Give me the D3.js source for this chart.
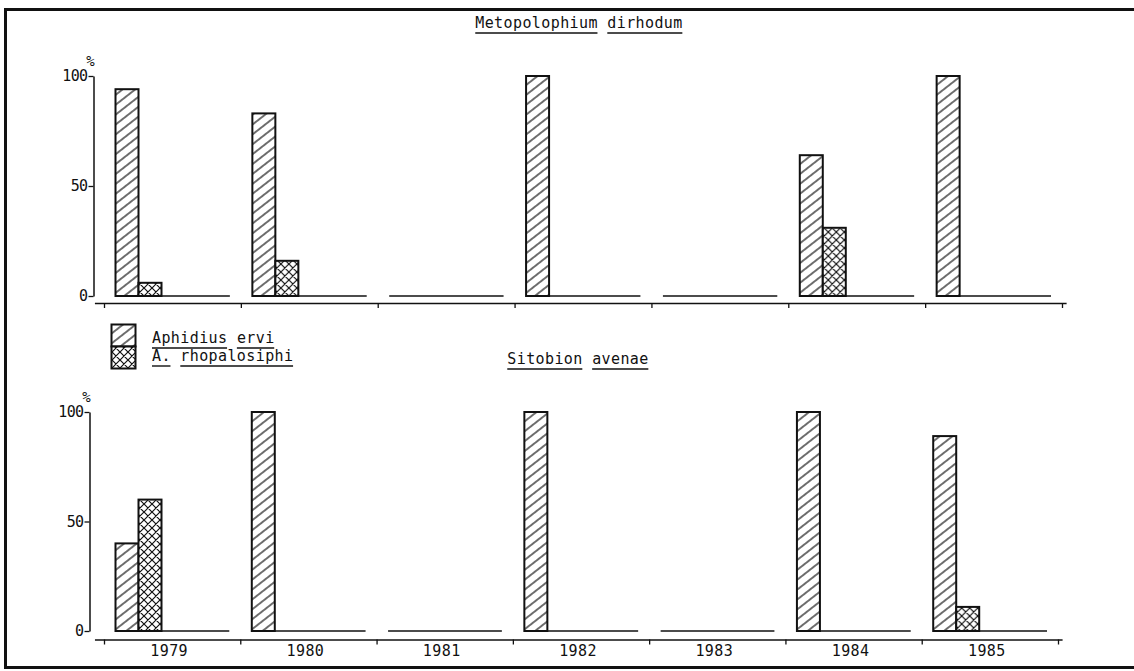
<!DOCTYPE html>
<html>
<head>
<meta charset="utf-8">
<script src="https://cdn.jsdelivr.net/npm/d3@7"></script>
<style>
  html, body { margin: 0; padding: 0; background: #fff; }
  svg { display: block; }
  text { font-family: "DejaVu Sans Mono", "Liberation Mono", monospace; fill: #111; }
</style>
</head>
<body>
<svg id="chart" width="1134" height="671"></svg>
<script>
// ---- data ----
const years = ["1979", "1980", "1981", "1982", "1983", "1984", "1985"];
const seriesNames = ["Aphidius ervi", "A. rhopalosiphi"];
const yTicks = [0, 50, 100];
const topTitle = "Metopolophium dirhodum";
const bottomTitle = "Sitobion avenae";
// Metopolophium dirhodum (%)
const topErvi = [94, 83, 0, 100, 0, 64, 100];
const topRhopalo = [6, 16, 0, 0, 0, 31, 0];
// Sitobion avenae (%)
const botErvi = [40, 100, 0, 100, 0, 100, 89];
const botRhopalo = [60, 0, 0, 0, 0, 0, 11];

const svg = d3.select("#chart");
const ink = "#111";
const FS = 15, LS = 0.4;

// ---- patterns ----
const defs = svg.append("defs");
const hatch = defs.append("pattern")
  .attr("id", "hatch").attr("patternUnits", "userSpaceOnUse")
  .attr("width", 7.8).attr("height", 7.8)
  .attr("patternTransform", "rotate(-38)");
hatch.append("rect").attr("width", 7.8).attr("height", 7.8).attr("fill", "#fff");
hatch.append("line").attr("x1", -1).attr("x2", 9).attr("y1", 3.9).attr("y2", 3.9)
  .attr("stroke", ink).attr("stroke-width", 1.2);

const cross = defs.append("pattern")
  .attr("id", "cross").attr("patternUnits", "userSpaceOnUse")
  .attr("width", 8).attr("height", 8);
cross.append("rect").attr("width", 8).attr("height", 8).attr("fill", "#fff");
cross.append("path").attr("d", "M0,0L8,8M8,0L0,8M-1,7L1,9M7,-1L9,1M-1,1L1,-1M7,9L9,7")
  .attr("stroke", ink).attr("stroke-width", 1.2).attr("fill", "none");

const fills = ["url(#hatch)", "url(#cross)"];

// ---- frame ----
svg.append("path").attr("d", "M1134,9.5H5.5V667.5H1134")
  .attr("fill", "none").attr("stroke", ink).attr("stroke-width", 3);

// ---- helper: underlined words ----
function underlinedText(g, str, x, y, anchor, size, spacing) {
  const probe = g.append("text").attr("font-size", size).attr("letter-spacing", spacing).text(str);
  const total = probe.node().getComputedTextLength();
  probe.remove();
  const cw = total / str.length;
  let x0 = anchor === "middle" ? x - total / 2 : x;
  let idx = 0;
  str.split(" ").forEach(w => {
    const wx = x0 + idx * cw;
    const t = g.append("text").attr("x", wx).attr("y", y)
      .attr("font-size", size).attr("letter-spacing", spacing).text(w);
    const len = t.node().getComputedTextLength();
    g.append("line").attr("x1", wx).attr("x2", wx + len - spacing)
      .attr("y1", y + 5).attr("y2", y + 5)
      .attr("stroke", ink).attr("stroke-width", 1.4);
    idx += w.length + 1;
  });
}

// ---- panel drawing ----
function panel(cfg) {
  const g = svg.append("g");
  const y = d3.scaleLinear().domain([0, 100]).range([cfg.y0, cfg.y100]);
  const x = d3.scaleBand().domain(years).range([cfg.xL, cfg.xR]).padding(0);
  const xi = d3.scaleLinear().domain([0, years.length]).range([cfg.xL, cfg.xR]);
  const sub = d3.scaleBand().domain(seriesNames).range([11.5, 11.5 + 46]).padding(0);

  // y axis
  const ya = g.append("g").attr("transform", `translate(${cfg.yAxisX},0)`)
    .call(d3.axisLeft(y).tickValues(yTicks).tickSize(5).tickSizeOuter(0).tickPadding(1));
  ya.select(".domain").attr("stroke", ink).attr("stroke-width", 1.5);
  ya.selectAll(".tick line").attr("stroke", ink).attr("stroke-width", 1.3);
  ya.selectAll(".tick text").attr("font-size", FS).attr("letter-spacing", -0.6)
    .attr("font-family", "'DejaVu Sans Mono', monospace").attr("fill", ink);
  g.append("text").attr("x", cfg.yAxisX - 3).attr("y", cfg.y100 - 10)
    .attr("text-anchor", "middle").attr("font-size", 14).text("%");

  // x axis with ticks at group boundaries
  const ext = d3.scaleLinear().domain([-0.07, years.length + 0.03])
    .range([xi(-0.07), xi(years.length + 0.03)]);
  const xa = g.append("g").attr("transform", `translate(0,${cfg.xAxisY})`)
    .call(d3.axisBottom(ext).tickValues(d3.range(years.length + 1)).tickFormat("")
      .tickSize(5).tickSizeOuter(0));
  xa.select(".domain").attr("stroke", ink).attr("stroke-width", 1.5);
  xa.selectAll(".tick line").attr("stroke", ink).attr("stroke-width", 1.3);

  // baseline segments per group
  g.selectAll(".base").data(years).join("line")
    .attr("x1", d => x(d) + 11.5).attr("x2", d => x(d) + x.bandwidth() - 11)
    .attr("y1", y(0)).attr("y2", y(0))
    .attr("stroke", ink).attr("stroke-width", 1.6);

  // bars
  const rows = years.map((yr, i) => ({ yr, vals: [cfg.ervi[i], cfg.rhopalo[i]] }));
  const grp = g.selectAll(".grp").data(rows).join("g")
    .attr("transform", d => `translate(${x(d.yr)},0)`);
  grp.selectAll("rect").data(d => d.vals.map((v, k) => ({ v, k })).filter(e => e.v > 0))
    .join("rect")
    .attr("x", e => sub(seriesNames[e.k]))
    .attr("width", sub.bandwidth())
    .attr("y", e => y(e.v))
    .attr("height", e => y(0) - y(e.v))
    .attr("fill", e => fills[e.k])
    .attr("stroke", ink).attr("stroke-width", 2);

  // year labels
  if (cfg.labels) {
    g.selectAll(".yl").data(years).join("text")
      .attr("x", d => x(d) + x.bandwidth() / 2 - 3)
      .attr("y", cfg.xAxisY + 16)
      .attr("text-anchor", "middle").attr("font-size", FS).attr("letter-spacing", LS)
      .text(d => d);
  }

  underlinedText(g, cfg.title, cfg.titleX, cfg.titleY, "middle", FS, LS);
}

panel({ y0: 296, y100: 76, yAxisX: 93.5, xL: 104, xR: 1062, xAxisY: 303,
        ervi: topErvi, rhopalo: topRhopalo, labels: false,
        title: topTitle, titleX: 579, titleY: 28 });
panel({ y0: 631, y100: 412, yAxisX: 89.5, xL: 104, xR: 1058, xAxisY: 639.5,
        ervi: botErvi, rhopalo: botRhopalo, labels: true,
        title: bottomTitle, titleX: 578, titleY: 364 });

// ---- legend ----
const lg = svg.append("g");
seriesNames.forEach((name, k) => {
  lg.append("rect").attr("x", 111.5).attr("y", 324.5 + k * 22)
    .attr("width", 24).attr("height", 22)
    .attr("fill", fills[k]).attr("stroke", ink).attr("stroke-width", 2);
  underlinedText(lg, name, 152, 343 + k * 18, "start", FS, LS);
});
</script>
</body>
</html>
